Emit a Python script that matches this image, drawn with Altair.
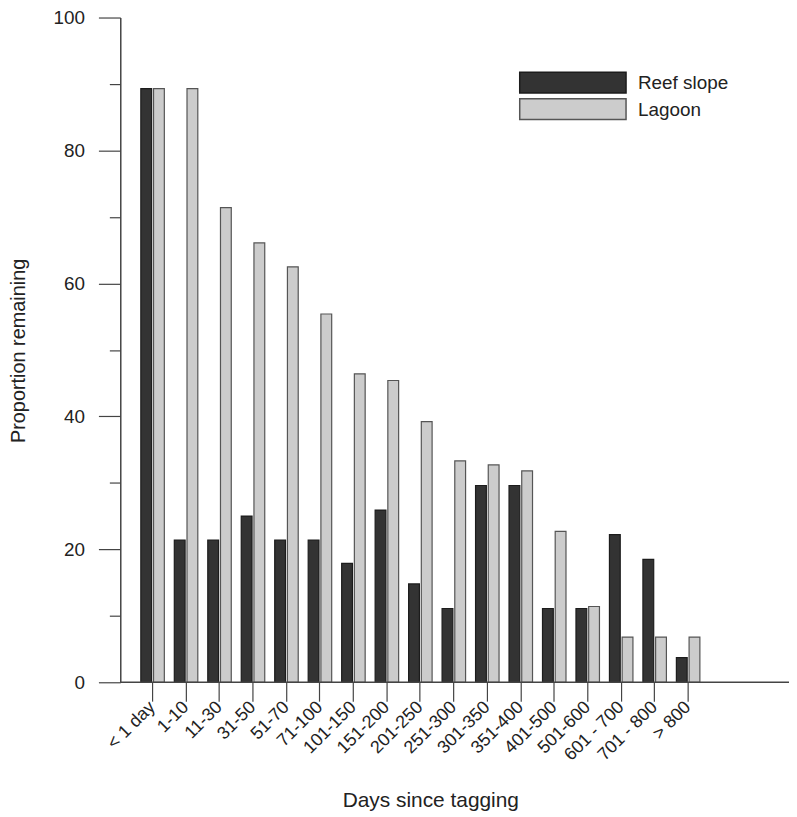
import altair as alt
import pandas as pd

categories = ["< 1 day", "1-10", "11-30", "31-50", "51-70", "71-100", "101-150",
              "151-200", "201-250", "251-300", "301-350", "351-400", "401-500",
              "501-600", "601 - 700", "701 - 800", "> 800"]
reef_slope = [89.3, 21.4, 21.4, 25.0, 21.4, 21.4, 17.9, 25.9, 14.8, 11.1, 29.6,
              29.6, 11.1, 11.1, 22.2, 18.5, 3.7]
lagoon = [89.3, 89.3, 71.4, 66.1, 62.5, 55.4, 46.4, 45.4, 39.2, 33.3, 32.7,
          31.8, 22.7, 11.4, 6.8, 6.8, 6.8]
series = ["Reef slope", "Lagoon"]
fills = ["#333333", "#cccccc"]
strokes = ["#1c1c1c", "#555555"]
y_ticks = list(range(0, 101, 10))

rows = []
for i, c in enumerate(categories):
    rows.append({"category": c, "series": series[0], "value": reef_slope[i]})
    rows.append({"category": c, "series": series[1], "value": lagoon[i]})
df = pd.DataFrame(rows)

FONT = "Liberation Sans"
TXT = "#222222"
AX = "#444444"
W = 630
FULL_W = 673
H = 669

bars = alt.Chart(df).mark_bar(strokeWidth=1.2).encode(
    x=alt.X("category:N", sort=categories,
            scale=alt.Scale(paddingInner=0.298, paddingOuter=1, align=0.307),
            axis=alt.Axis(title="Days since tagging", labelAngle=-45,
                          labelAlign="right", labelBaseline="middle",
                          labelPadding=3, labelFontSize=18, labelFont=FONT,
                          labelColor=TXT, tickSize=19, tickColor=AX, tickWidth=1.2,
                          domain=False,
                          titleFont=FONT, titleFontSize=21, titleFontWeight="normal",
                          titleColor=TXT, titleX=312, titleY=125,
                          titleBaseline="alphabetic", titleAlign="center")),
    xOffset=alt.XOffset("series:N", sort=series,
                        scale=alt.Scale(paddingInner=0.15, paddingOuter=0)),
    y=alt.Y("value:Q", scale=alt.Scale(domain=[0, 100], nice=False),
            axis=alt.Axis(title="Proportion remaining", values=y_ticks,
                          labelExpr="datum.value % 20 === 0 ? datum.label : ''",
                          tickSize={"condition": {"test": "datum.value % 20 === 0", "value": 22}, "value": 11},
                          labelPadding=14, labelFontSize=19, labelFont=FONT,
                          labelColor=TXT, tickColor=AX, tickWidth=1.2,
                          domainColor=AX, domainWidth=1.5, grid=False,
                          titleFont=FONT, titleFontSize=20, titleFontWeight="normal",
                          titleColor=TXT, titleX=-96, titleY=335,
                          titleBaseline="alphabetic", titleAlign="center", titleAngle=270)),
    fill=alt.Fill("series:N", scale=alt.Scale(domain=series, range=fills), legend=None),
    stroke=alt.Stroke("series:N", scale=alt.Scale(domain=series, range=strokes), legend=None),
)

baseline = alt.Chart(pd.DataFrame({"v": [0]})).mark_rule(color=AX, strokeWidth=1.5).encode(
    x=alt.value(0), x2=alt.value(FULL_W), y=alt.datum(0))

layers = [bars, baseline]
leg_y = [(55, 76, 72.3), (81.7, 102.7, 99)]
for i, s in enumerate(series):
    sdf = pd.DataFrame({"series": [s]})
    y0, y1, yt = leg_y[i]
    layers.append(alt.Chart(sdf).mark_rect(fill=fills[i], stroke=strokes[i], strokeWidth=1.5).encode(
        x=alt.value(402), x2=alt.value(509), y=alt.value(y0), y2=alt.value(y1)))
    layers.append(alt.Chart(sdf).mark_text(align="left", baseline="alphabetic", fontSize=19,
                                           font=FONT, color=TXT).encode(
        x=alt.value(521), y=alt.value(yt), text="series:N"))

chart = alt.layer(*layers).properties(
    width=W, height=H,
    autosize=alt.AutoSizeParams(type="none"),
    padding={"left": 113, "top": 7, "right": FULL_W - W, "bottom": 133},
).configure_view(stroke=None)

chart.save("out.html", embed_options={"renderer": "svg", "actions": False})
